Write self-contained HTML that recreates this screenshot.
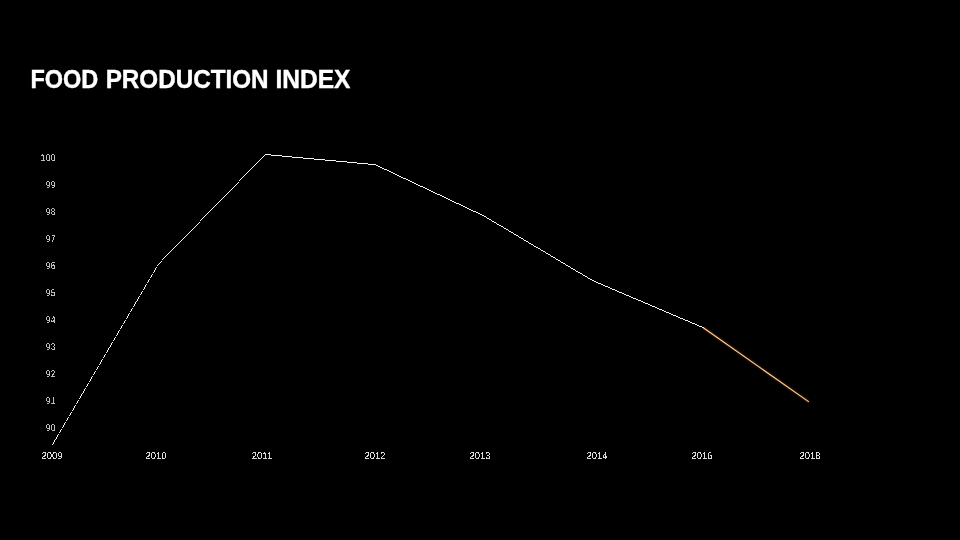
<!DOCTYPE html>
<html lang="en">
<head>
<meta charset="utf-8">
<title>Food Production Index</title>
<style>
html,body{margin:0;padding:0;background:#000;}
body{width:960px;height:540px;overflow:hidden;position:relative;font-family:"Liberation Sans",Arial,sans-serif;color:#fff;}
h1{position:absolute;left:0;top:65px;margin:0;font-size:25px;line-height:28px;font-weight:bold;white-space:nowrap;color:#fff;width:400px;height:28px;}
h1 span{position:absolute;top:0;left:0;transform-origin:0 0;-webkit-text-stroke:0.4px #fff;}
.yl,.xl{position:absolute;font-size:10px;line-height:12px;text-rendering:geometricPrecision;transform:scaleX(0.95);filter:url(#thr);}
.yl{left:19.6px;width:36px;text-align:right;color:#bebebe;transform-origin:100% 50%;transform:scaleX(0.86);letter-spacing:0.45px;}
.xl{top:451px;width:40px;margin-left:-20px;text-align:center;color:#dcdcdc;transform-origin:50% 50%;}
svg{position:absolute;left:0;top:0;}
</style>
</head>
<body>
<h1><span style="transform:translateX(30.49px) scaleX(0.939)">FOOD</span> <span style="transform:translateX(105.64px) scaleX(0.9695)">PRODUCTION</span> <span style="transform:translateX(275.42px) scaleX(0.9807)">INDEX</span></h1>
<div class="yl" style="top:153px">100</div>
<div class="yl" style="top:180px">99</div>
<div class="yl" style="top:207px">98</div>
<div class="yl" style="top:234px">97</div>
<div class="yl" style="top:261px">96</div>
<div class="yl" style="top:288px">95</div>
<div class="yl" style="top:315px">94</div>
<div class="yl" style="top:342px">93</div>
<div class="yl" style="top:369px">92</div>
<div class="yl" style="top:396px">91</div>
<div class="yl" style="top:423px">90</div>
<div class="xl" style="left:52px">2009</div>
<div class="xl" style="left:155.5px">2010</div>
<div class="xl" style="left:262px">2011</div>
<div class="xl" style="left:375px">2012</div>
<div class="xl" style="left:480px">2013</div>
<div class="xl" style="left:596.5px">2014</div>
<div class="xl" style="left:702px">2016</div>
<div class="xl" style="left:810px">2018</div>
<svg width="960" height="540" viewBox="0 0 960 540" shape-rendering="crispEdges">
<defs><filter id="thr" x="0" y="0" width="100%" height="100%" color-interpolation-filters="sRGB"><feComponentTransfer><feFuncA type="discrete" tableValues="0 0 0 0 0 0 0 0 0 1 1 1 1 1 1 1 1 1 1 1"/></feComponentTransfer></filter></defs>
<path fill="#f4f4f4" d="M52 444h1v1h-1zM53 442h1v2h-1zM54 440h1v2h-1zM55 439h1v1h-1zM56 437h1v2h-1zM57 435h1v2h-1zM58 434h1v1h-1zM59 432h1v1h-1zM60 430h1v2h-1zM61 429h1v1h-1zM62 427h1v1h-1zM63 425h1v2h-1zM64 423h1v2h-1zM65 422h1v1h-1zM66 420h1v1h-1zM67 418h1v2h-1zM68 417h1v1h-1zM69 415h1v1h-1zM70 413h1v2h-1zM71 412h1v1h-1zM72 410h1v1h-1zM73 408h1v2h-1zM74 406h1v2h-1zM75 405h1v1h-1zM76 403h1v1h-1zM77 401h1v2h-1zM78 400h1v1h-1zM79 398h1v1h-1zM80 396h1v2h-1zM81 394h1v2h-1zM82 393h1v1h-1zM83 391h1v2h-1zM84 389h1v2h-1zM85 388h1v1h-1zM86 386h1v1h-1zM87 384h1v2h-1zM88 383h1v1h-1zM89 381h1v1h-1zM90 379h1v2h-1zM91 377h1v2h-1zM92 376h1v1h-1zM93 374h1v1h-1zM94 372h1v2h-1zM95 371h1v1h-1zM96 369h1v1h-1zM97 367h1v2h-1zM98 366h1v1h-1zM99 364h1v1h-1zM100 362h1v2h-1zM101 360h1v2h-1zM102 359h1v1h-1zM103 357h1v1h-1zM104 355h1v2h-1zM105 354h1v1h-1zM106 352h1v1h-1zM107 350h1v2h-1zM108 348h1v2h-1zM109 347h1v1h-1zM110 345h1v2h-1zM111 343h1v2h-1zM112 342h1v1h-1zM113 340h1v1h-1zM114 338h1v2h-1zM115 337h1v1h-1zM116 335h1v1h-1zM117 333h1v2h-1zM118 331h1v2h-1zM119 330h1v1h-1zM120 328h1v1h-1zM121 326h1v2h-1zM122 325h1v1h-1zM123 323h1v1h-1zM124 321h1v2h-1zM125 320h1v1h-1zM126 318h1v1h-1zM127 316h1v2h-1zM128 314h1v2h-1zM129 313h1v1h-1zM130 311h1v1h-1zM131 309h1v2h-1zM132 308h1v1h-1zM133 306h1v1h-1zM134 304h1v2h-1zM135 302h1v2h-1zM136 301h1v1h-1zM137 299h1v2h-1zM138 297h1v2h-1zM139 296h1v1h-1zM140 294h1v1h-1zM141 292h1v2h-1zM142 291h1v1h-1zM143 289h1v1h-1zM144 287h1v2h-1zM145 285h1v2h-1zM146 284h1v1h-1zM147 282h1v1h-1zM148 280h1v2h-1zM149 279h1v1h-1zM150 277h1v1h-1zM151 275h1v2h-1zM152 274h1v1h-1zM153 272h1v1h-1zM154 270h1v2h-1zM155 268h1v2h-1zM156 267h1v1h-1zM157 265h1v1h-1zM158 264h1v1h-1zM159 263h1v1h-1zM160 262h1v1h-1zM161 261h1v1h-1zM162 259h1v1h-1zM163 258h1v1h-1zM164 257h1v1h-1zM165 256h1v1h-1zM166 255h1v1h-1zM167 254h1v1h-1zM168 253h1v1h-1zM169 252h1v1h-1zM170 251h1v1h-1zM171 250h1v1h-1zM172 249h1v1h-1zM173 248h1v1h-1zM174 247h1v1h-1zM175 246h1v1h-1zM176 245h1v1h-1zM177 244h1v1h-1zM178 243h1v1h-1zM179 242h1v1h-1zM180 241h1v1h-1zM181 240h1v1h-1zM182 239h1v1h-1zM183 238h1v1h-1zM184 237h1v1h-1zM185 236h1v1h-1zM186 235h1v1h-1zM187 234h1v1h-1zM188 233h1v1h-1zM189 232h1v1h-1zM190 231h1v1h-1zM191 230h1v1h-1zM192 229h1v1h-1zM193 228h1v1h-1zM194 227h1v1h-1zM195 226h1v1h-1zM196 225h1v1h-1zM197 224h1v1h-1zM198 223h1v1h-1zM199 222h1v1h-1zM200 220h1v1h-1zM201 219h1v1h-1zM202 218h1v1h-1zM203 217h1v1h-1zM204 216h1v1h-1zM205 215h1v1h-1zM206 214h1v1h-1zM207 213h1v1h-1zM208 212h1v1h-1zM209 211h1v1h-1zM210 210h1v1h-1zM211 209h1v1h-1zM212 208h1v1h-1zM213 207h1v1h-1zM214 206h1v1h-1zM215 205h1v1h-1zM216 204h1v1h-1zM217 203h1v1h-1zM218 202h1v1h-1zM219 201h1v1h-1zM220 200h1v1h-1zM221 199h1v1h-1zM222 198h1v1h-1zM223 197h1v1h-1zM224 196h1v1h-1zM225 195h1v1h-1zM226 194h1v1h-1zM227 193h1v1h-1zM228 192h1v1h-1zM229 191h1v1h-1zM230 190h1v1h-1zM231 189h1v1h-1zM232 188h1v1h-1zM233 187h1v1h-1zM234 186h1v1h-1zM235 185h1v1h-1zM236 184h1v1h-1zM237 183h1v1h-1zM238 182h1v1h-1zM239 180h1v1h-1zM240 179h1v1h-1zM241 178h1v1h-1zM242 177h1v1h-1zM243 176h1v1h-1zM244 175h1v1h-1zM245 174h1v1h-1zM246 173h1v1h-1zM247 172h1v1h-1zM248 171h1v1h-1zM249 170h1v1h-1zM250 169h1v1h-1zM251 168h1v1h-1zM252 167h1v1h-1zM253 166h1v1h-1zM254 165h1v1h-1zM255 164h1v1h-1zM256 163h1v1h-1zM257 162h1v1h-1zM258 161h1v1h-1zM259 160h1v1h-1zM260 159h1v1h-1zM261 158h1v1h-1zM262 157h1v1h-1zM263 156h1v1h-1zM264 155h1v1h-1zM265 154h6v1h-6zM271 155h11v1h-11zM282 156h10v1h-10zM292 157h11v1h-11zM303 158h11v1h-11zM314 159h11v1h-11zM325 160h11v1h-11zM336 161h11v1h-11zM347 162h10v1h-10zM357 163h11v1h-11zM368 164h8v1h-8zM376 165h2v1h-2zM378 166h2v1h-2zM380 167h2v1h-2zM382 168h2v1h-2zM384 169h3v1h-3zM387 170h2v1h-2zM389 171h2v1h-2zM391 172h2v1h-2zM393 173h2v1h-2zM395 174h2v1h-2zM397 175h2v1h-2zM399 176h2v1h-2zM401 177h2v1h-2zM403 178h3v1h-3zM406 179h2v1h-2zM408 180h2v1h-2zM410 181h2v1h-2zM412 182h2v1h-2zM414 183h2v1h-2zM416 184h2v1h-2zM418 185h2v1h-2zM420 186h3v1h-3zM423 187h2v1h-2zM425 188h2v1h-2zM427 189h2v1h-2zM429 190h2v1h-2zM431 191h2v1h-2zM433 192h2v1h-2zM435 193h2v1h-2zM437 194h3v1h-3zM440 195h2v1h-2zM442 196h2v1h-2zM444 197h2v1h-2zM446 198h2v1h-2zM448 199h2v1h-2zM450 200h2v1h-2zM452 201h2v1h-2zM454 202h2v1h-2zM456 203h3v1h-3zM459 204h2v1h-2zM461 205h2v1h-2zM463 206h2v1h-2zM465 207h2v1h-2zM467 208h2v1h-2zM469 209h2v1h-2zM471 210h2v1h-2zM473 211h3v1h-3zM476 212h2v1h-2zM478 213h2v1h-2zM480 214h2v1h-2zM482 215h2v1h-2zM484 216h2v1h-2zM486 217h1v1h-1zM487 218h2v1h-2zM489 219h2v1h-2zM491 220h1v1h-1zM492 221h2v1h-2zM494 222h2v1h-2zM496 223h1v1h-1zM497 224h2v1h-2zM499 225h2v1h-2zM501 226h2v1h-2zM503 227h1v1h-1zM504 228h2v1h-2zM506 229h2v1h-2zM508 230h1v1h-1zM509 231h2v1h-2zM511 232h2v1h-2zM513 233h1v1h-1zM514 234h2v1h-2zM516 235h2v1h-2zM518 236h1v1h-1zM519 237h2v1h-2zM521 238h2v1h-2zM523 239h1v1h-1zM524 240h2v1h-2zM526 241h2v1h-2zM528 242h1v1h-1zM529 243h2v1h-2zM531 244h2v1h-2zM533 245h1v1h-1zM534 246h2v1h-2zM536 247h2v1h-2zM538 248h2v1h-2zM540 249h1v1h-1zM541 250h2v1h-2zM543 251h2v1h-2zM545 252h1v1h-1zM546 253h2v1h-2zM548 254h2v1h-2zM550 255h1v1h-1zM551 256h2v1h-2zM553 257h2v1h-2zM555 258h1v1h-1zM556 259h2v1h-2zM558 260h2v1h-2zM560 261h1v1h-1zM561 262h2v1h-2zM563 263h2v1h-2zM565 264h1v1h-1zM566 265h2v1h-2zM568 266h2v1h-2zM570 267h1v1h-1zM571 268h2v1h-2zM573 269h2v1h-2zM575 270h1v1h-1zM576 271h2v1h-2zM578 272h2v1h-2zM580 273h2v1h-2zM582 274h1v1h-1zM583 275h2v1h-2zM585 276h2v1h-2zM587 277h1v1h-1zM588 278h2v1h-2zM590 279h2v1h-2zM592 280h2v1h-2zM594 281h2v1h-2zM596 282h2v1h-2zM598 283h3v1h-3zM601 284h2v1h-2zM603 285h2v1h-2zM605 286h3v1h-3zM608 287h2v1h-2zM610 288h2v1h-2zM612 289h3v1h-3zM615 290h2v1h-2zM617 291h2v1h-2zM619 292h3v1h-3zM622 293h2v1h-2zM624 294h2v1h-2zM626 295h3v1h-3zM629 296h2v1h-2zM631 297h2v1h-2zM633 298h3v1h-3zM636 299h2v1h-2zM638 300h3v1h-3zM641 301h2v1h-2zM643 302h2v1h-2zM645 303h3v1h-3zM648 304h2v1h-2zM650 305h2v1h-2zM652 306h3v1h-3zM655 307h2v1h-2zM657 308h2v1h-2zM659 309h3v1h-3zM662 310h2v1h-2zM664 311h2v1h-2zM666 312h3v1h-3zM669 313h2v1h-2zM671 314h2v1h-2zM673 315h3v1h-3zM676 316h2v1h-2zM678 317h2v1h-2zM680 318h3v1h-3zM683 319h2v1h-2zM685 320h3v1h-3zM688 321h2v1h-2zM690 322h2v1h-2zM692 323h3v1h-3zM695 324h2v1h-2zM697 325h2v1h-2zM699 326h3v1h-3zM702 327h2v1h-2z"/>
<g shape-rendering="geometricPrecision" fill="none"><line x1="703.3" y1="327.7" x2="808.9" y2="401.9" stroke="rgba(215,80,10,0.16)" stroke-width="4"/><line x1="703.3" y1="327.7" x2="808.9" y2="401.9" stroke="#ffd79e" stroke-width="1.15"/></g>
</svg>
</body>
</html>
